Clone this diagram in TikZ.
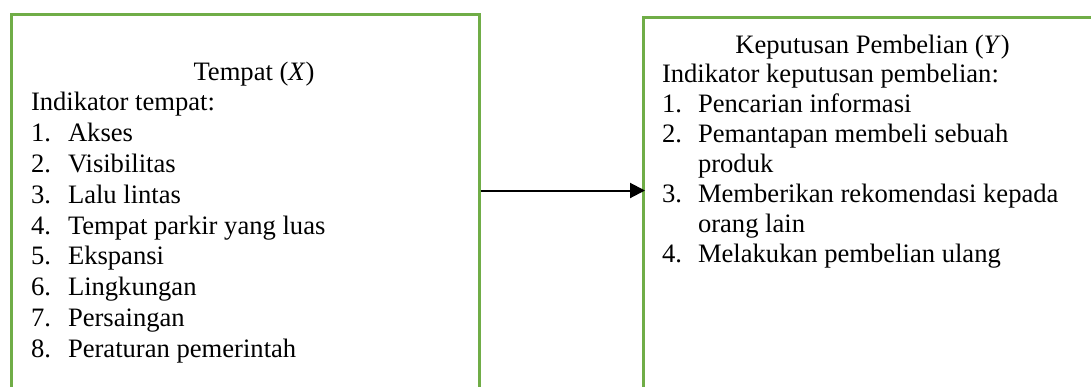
\documentclass[tikz,border=0pt]{standalone}
\usepackage{fontspec}
\setmainfont{Liberation Serif}
\usetikzlibrary{arrows.meta}
\definecolor{framegreen}{RGB}{112,173,71}
\tikzset{
  framebox/.style={draw=framegreen, line width=2.7pt, rectangle, inner sep=0pt, anchor=north west},
  txt/.style={inner sep=0pt, outer sep=0pt, anchor=base west,
    font=\fontsize{26.6}{30.6}\selectfont},
  title/.style={txt, anchor=base},
  link/.style={draw=black, line width=2pt, -{Triangle[length=15pt,width=15pt]}},
}
\begin{document}
\begin{tikzpicture}[x=1pt,y=1pt]
\useasboundingbox (0,0) rectangle (1091,-386);
\clip (0,0) rectangle (1091,-386);
\fill[white] (0,0) rectangle (1091,-386);

% the two variable frames (open toward the bottom of the page)
\node[framebox, minimum width=468pt, minimum height=440pt] (boxX) at (10,-13) {};
\node[framebox, minimum width=470pt, minimum height=440pt] (boxY) at (642,-16) {};

% independent variable
\node[title] (tX) at (254,-80) {Tempat (\textit{X})};
\node[txt] (hX) at (31,-110.8) {Indikator tempat:};
\foreach \n/\t [count=\i] in {1/Akses,2/Visibilitas,3/Lalu lintas,4/Tempat parkir yang luas,
    5/Ekspansi,6/Lingkungan,7/Persaingan,8/Peraturan pemerintah}{
  \node[txt] (nX\i) at (31,{-110.8-30.8*\i}) {\n.};
  \node[txt] (iX\i) at (68,{-110.8-30.8*\i}) {\t};
}

% dependent variable
\node[title] (tY) at (872.5,-53) {Keputusan Pembelian (\textit{Y})};
\node[txt] (hY) at (662,-82.9) {Indikator keputusan pembelian:};
\node[txt] (nY1) at (662,-112.8) {1.};
\node[txt] (iY1) at (698,-112.8) {Pencarian informasi};
\node[txt] (nY2) at (662,-142.7) {2.};
\node[txt] (iY2) at (698,-142.7) {Pemantapan membeli sebuah};
\node[txt] (iY2b) at (698,-172.6) {produk};
\node[txt] (nY3) at (662,-202.5) {3.};
\node[txt] (iY3) at (698,-202.5) {Memberikan rekomendasi kepada};
\node[txt] (iY3b) at (698,-232.4) {orang lain};
\node[txt] (nY4) at (662,-262.3) {4.};
\node[txt] (iY4) at (698,-262.3) {Melakukan pembelian ulang};

% influence of X on Y
\coordinate (row) at (0,-190.5);
\draw[link, shorten >=-3pt] (boxX.east |- row) -- (boxY.west |- row);
\end{tikzpicture}
\end{document}
